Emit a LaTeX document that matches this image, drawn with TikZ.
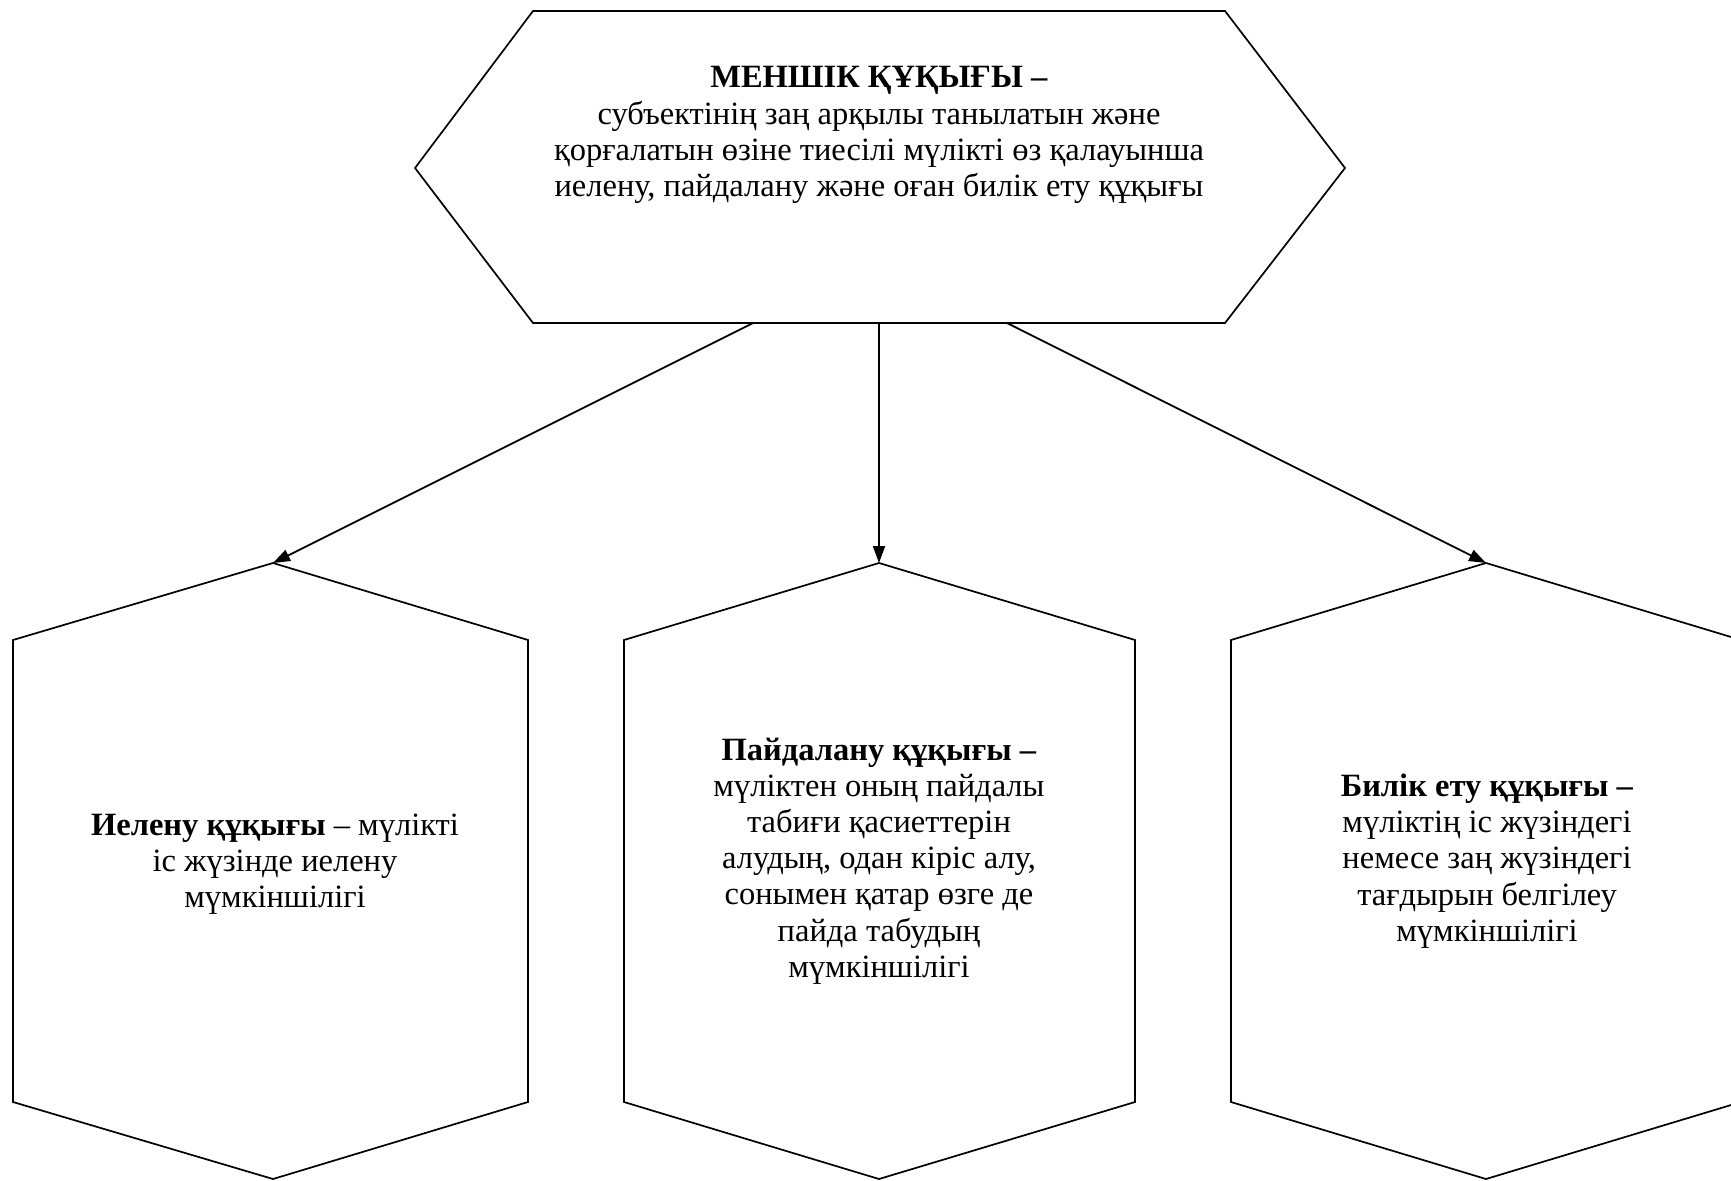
\documentclass[tikz,border=0pt]{standalone}
\usepackage{fontspec}
\setmainfont{Liberation Serif}
\usetikzlibrary{arrows.meta}
\begin{document}
\begin{tikzpicture}[x=1pt,y=-1pt,
  hexa/.style={draw=black, line width=1.7pt, line join=miter},
  txt/.style={align=center, font=\fontsize{32.5}{36.2}\selectfont, inner sep=0pt},
  toptxt/.style={align=center, font=\fontsize{32.5}{36.2}\selectfont, inner sep=0pt},
  conn/.style={-{Triangle[length=17pt,width=12pt]}, line width=1.8pt}]
\useasboundingbox (0,0) rectangle (1731,1180);
\clip (0,0) rectangle (1731,1180);
% top hexagon
\coordinate (tTL) at (533,11);
\coordinate (tTR) at (1225,11);
\coordinate (tR) at (1345,168);
\coordinate (tBR) at (1225,323);
\coordinate (tBL) at (533,323);
\coordinate (tL) at (415,168);
\draw[hexa] (tTL) -- (tTR) -- (tR) -- (tBR) -- (tBL) -- (tL) -- cycle;
\coordinate (s1) at (753,323);
\coordinate (s2) at (879,323);
\coordinate (s3) at (1007,323);
% left hexagon
\coordinate (aT) at (273,563);
\draw[hexa] (aT) -- (528,640) -- (528,1102) -- (273,1179) -- (13,1102) -- (13,640) -- cycle;
% middle hexagon
\coordinate (bT) at (879,563);
\draw[hexa] (bT) -- (1135,640) -- (1135,1102) -- (879,1179) -- (624,1102) -- (624,640) -- cycle;
% right hexagon
\coordinate (cT) at (1486,563);
\draw[hexa] (cT) -- (1741,640) -- (1741,1102) -- (1486,1179) -- (1231,1102) -- (1231,640) -- cycle;
% texts
\node[toptxt] (mtext) at (879,135) {\textbf{МЕНШІК ҚҰҚЫҒЫ –}\\ субъектінің заң арқылы танылатын және\\ қорғалатын өзіне тиесілі мүлікті өз қалауынша\\ иелену, пайдалану және оған билік ету құқығы};
\node[txt] (atext) at (275,864) {\textbf{Иелену құқығы} – мүлікті\\ іс жүзінде иелену\\ мүмкіншілігі};
\node[txt] (btext) at (879,861) {\textbf{Пайдалану құқығы –}\\ мүліктен оның пайдалы\\ табиғи қасиеттерін\\ алудың, одан кіріс алу,\\ сонымен қатар өзге де\\ пайда табудың\\ мүмкіншілігі};
\node[txt] (ctext) at (1487,861) {\textbf{Билік ету құқығы –}\\ мүліктің іс жүзіндегі\\ немесе заң жүзіндегі\\ тағдырын белгілеу\\ мүмкіншілігі};
% connectors
\draw[conn] (s1) -- (aT);
\draw[conn] (s2) -- (bT);
\draw[conn] (s3) -- (cT);
\end{tikzpicture}
\end{document}
